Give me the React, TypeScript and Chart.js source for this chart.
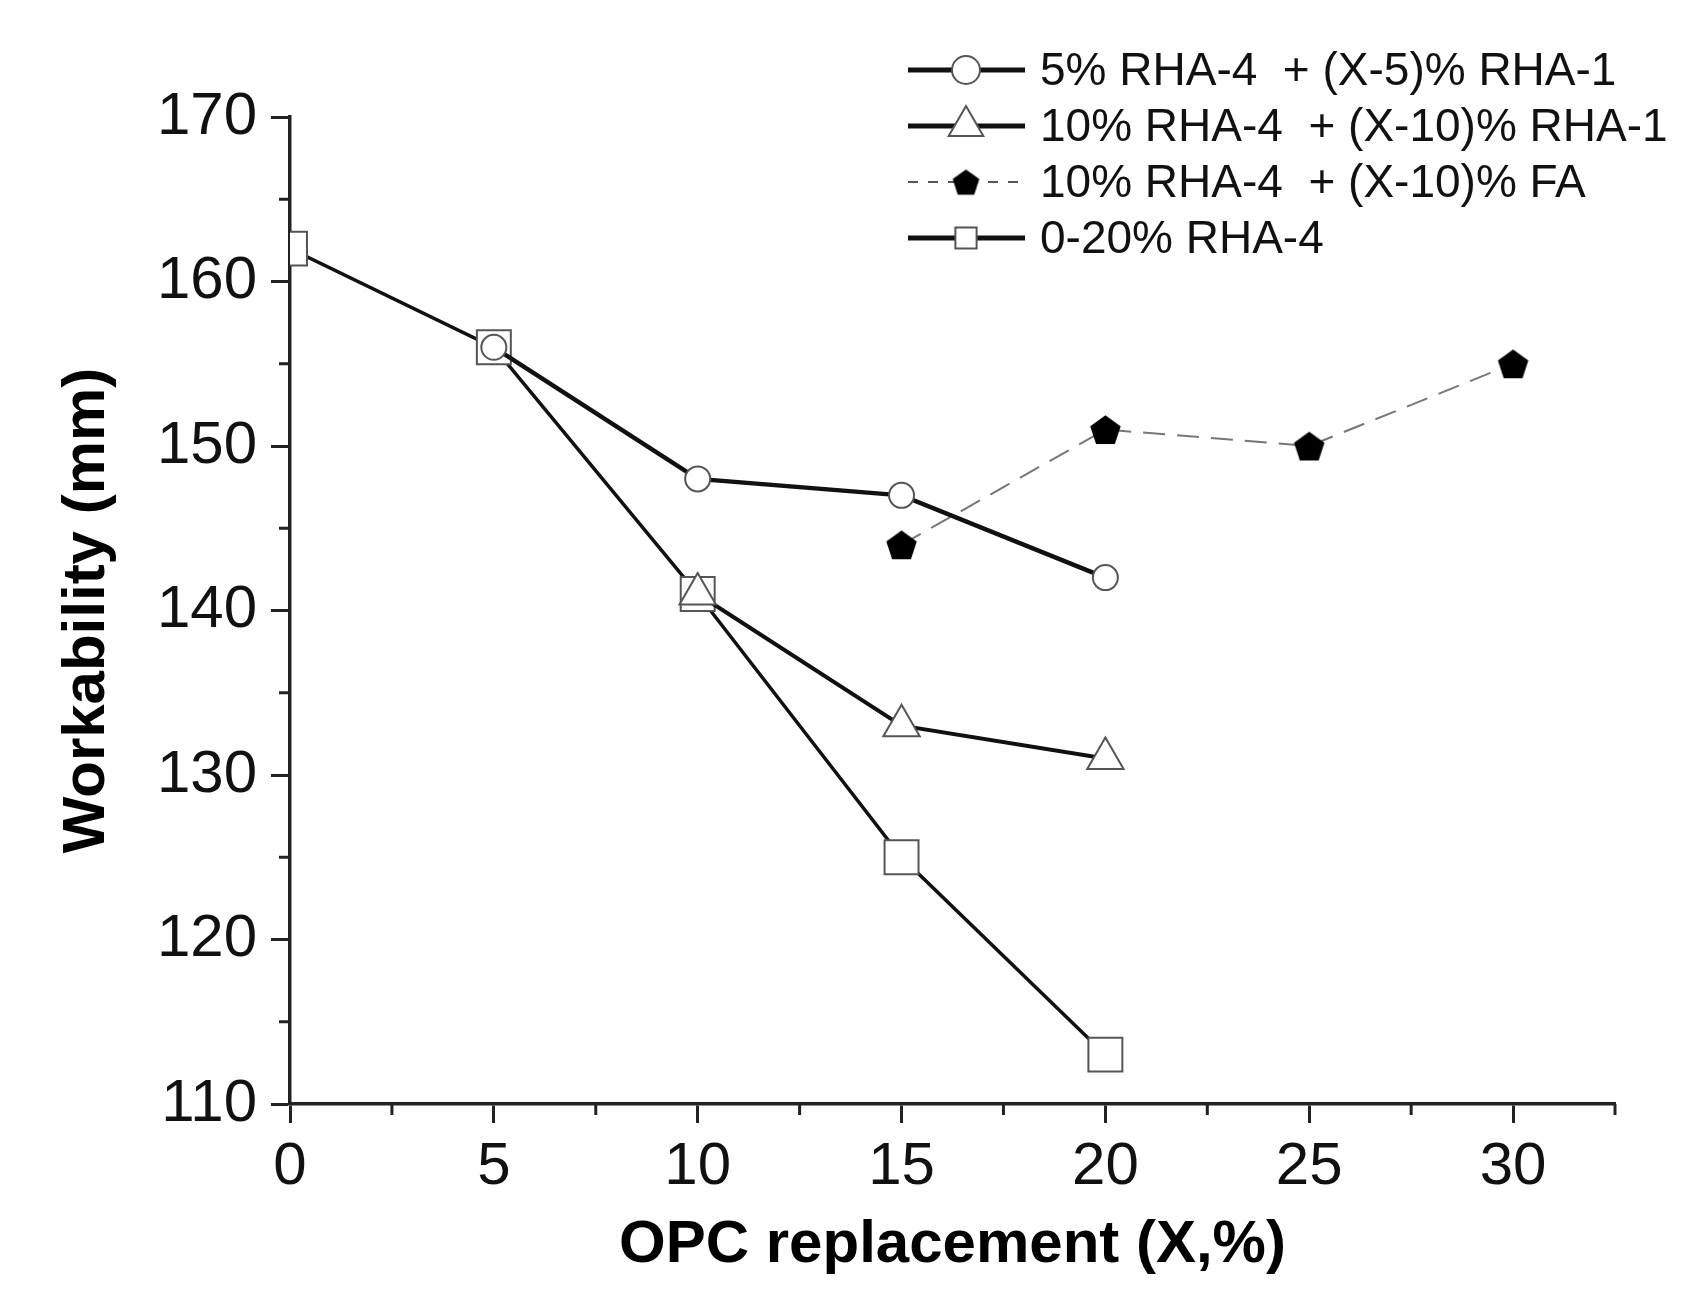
import React, { useEffect, useRef } from 'react';
import { Chart, registerables } from 'chart.js';
import { drawPoint } from 'chart.js/helpers';

Chart.register(...registerables);

const FONT = "'Liberation Sans', Arial, sans-serif";

// Tick values
const xTickValues = [0, 5, 10, 15, 20, 25, 30];
const xMinorTicks = [2.5, 7.5, 12.5, 17.5, 22.5, 27.5, 32.5];
const yTickValues = [110, 120, 130, 140, 150, 160, 170];
const yMinorTicks = [115, 125, 135, 145, 155, 165];

// Series labels
const seriesLabels = [
  '5% RHA-4  + (X-5)% RHA-1',
  '10% RHA-4  + (X-10)% RHA-1',
  '10% RHA-4  + (X-10)% FA',
  '0-20% RHA-4',
];

// Series data
const s1X = [5, 10, 15, 20];
const s1Y = [156, 148, 147, 142];
const s2X = [10, 15, 20];
const s2Y = [141, 133, 131];
const s3X = [15, 20, 25, 30];
const s3Y = [144, 151, 150, 155];
const s4X = [0, 5, 10, 15, 20];
const s4Y = [162, 156, 141, 125, 113];

const pts = (xs: number[], ys: number[]) => xs.map((x, i) => ({ x, y: ys[i] }));

function makePentagon(size: number) {
  const c = document.createElement('canvas');
  c.width = size;
  c.height = size;
  const g = c.getContext('2d')!;
  const r = size / 2 - 0.5;
  g.beginPath();
  for (let i = 0; i < 5; i++) {
    const a = -Math.PI / 2 + (i * 2 * Math.PI) / 5;
    const px = size / 2 + r * Math.cos(a);
    const py = size / 2 + size * 0.05 + r * Math.sin(a);
    if (i === 0) g.moveTo(px, py);
    else g.lineTo(px, py);
  }
  g.closePath();
  g.fillStyle = '#000';
  g.fill();
  return c;
}

export default function App() {
  const ref = useRef<HTMLCanvasElement>(null);

  useEffect(() => {
    if (!ref.current) return;
    const pent = makePentagon(33);
    const pentSmall = makePentagon(29);

    const minorTicks = {
      id: 'minorTicks',
      afterDraw(chart: any) {
        const ctx = chart.ctx;
        const xs = chart.scales.x;
        const ys = chart.scales.y;
        const area = chart.chartArea;
        ctx.save();
        ctx.strokeStyle = '#222';
        ctx.lineWidth = 3;
        xMinorTicks.forEach((v) => {
          const px = xs.getPixelForValue(v);
          ctx.beginPath();
          ctx.moveTo(px, area.bottom);
          ctx.lineTo(px, area.bottom + 11);
          ctx.stroke();
        });
        yMinorTicks.forEach((v) => {
          const py = ys.getPixelForValue(v);
          ctx.beginPath();
          ctx.moveTo(area.left, py);
          ctx.lineTo(area.left - 11, py);
          ctx.stroke();
        });
        ctx.restore();
      },
    };

    const legendPlugin = {
      id: 'customLegend',
      afterDraw(chart: any) {
        const ctx = chart.ctx;
        const rowTop = 70;
        const rowGap = 56;
        const lineL = 908;
        const lineR = 1025;
        const markX = 966;
        const textX = 1040;
        ctx.save();
        chart.data.datasets.forEach((ds: any, i: number) => {
          const y = rowTop + i * rowGap;
          ctx.beginPath();
          ctx.strokeStyle = i === 2 ? '#555' : '#111';
          ctx.lineWidth = i === 2 ? 2 : 5;
          ctx.setLineDash(i === 2 ? [10, 10] : []);
          ctx.moveTo(lineL, y);
          ctx.lineTo(lineR, y);
          ctx.stroke();
          ctx.setLineDash([]);
          ctx.fillStyle = '#fff';
          ctx.strokeStyle = ds.pointBorderColor;
          ctx.lineWidth = 2;
          const style = i === 2 ? pentSmall : ds.pointStyle;
          const radius = i === 3 ? 15 : i === 1 ? 20 : 14;
          drawPoint(ctx, { pointStyle: style, radius, borderWidth: 2, rotation: 0 }, markX, y);
          ctx.fillStyle = '#111';
          ctx.font = `46px ${FONT}`;
          ctx.textBaseline = 'middle';
          ctx.textAlign = 'left';
          ctx.fillText(ds.label, textX, y + 2);
        });
        ctx.restore();
      },
    };

    const chart = new Chart(ref.current, {
      type: 'line',
      data: {
        datasets: [
          {
            label: seriesLabels[0],
            data: pts(s1X, s1Y),
            borderColor: '#111',
            borderWidth: 4.5,
            pointStyle: 'circle',
            pointRadius: 12.5,
            pointBackgroundColor: '#fff',
            pointBorderColor: '#555',
            pointBorderWidth: 2,
          },
          {
            label: seriesLabels[1],
            data: pts(s2X, s2Y),
            borderColor: '#111',
            borderWidth: 4,
            pointStyle: 'triangle',
            pointRadius: 21,
            pointBackgroundColor: '#fff',
            pointBorderColor: '#555',
            pointBorderWidth: 2,
          },
          {
            label: seriesLabels[2],
            data: pts(s3X, s3Y),
            borderColor: '#777',
            borderWidth: 2,
            borderDash: [22, 12],
            pointStyle: pent as any,
            pointRadius: 16,
            pointBackgroundColor: '#000',
            pointBorderColor: '#000',
            pointBorderWidth: 0,
          },
          {
            label: seriesLabels[3],
            data: pts(s4X, s4Y),
            borderColor: '#111',
            borderWidth: 3.5,
            pointStyle: 'rect',
            pointRadius: 24,
            pointBackgroundColor: '#fff',
            pointBorderColor: '#555',
            pointBorderWidth: 2,
            clip: 0 as any,
          },
        ],
      },
      options: {
        animation: false,
        responsive: true,
        maintainAspectRatio: false,
        layout: { padding: { top: 117, right: 83, left: 0, bottom: 0 } },
        plugins: {
          legend: { display: false },
          tooltip: { enabled: false },
        },
        elements: { line: { tension: 0 } },
        scales: {
          x: {
            type: 'linear',
            min: 0,
            max: 32.5,
            afterBuildTicks: (s: any) => {
              s.ticks = xTickValues.map((v) => ({ value: v }));
            },
            afterFit: (s: any) => {
              s.height = 197;
            },
            ticks: {
              color: '#111',
              font: { family: FONT, size: 60 },
              padding: 8,
              maxRotation: 0,
              autoSkip: false,
            },
            grid: {
              drawOnChartArea: false,
              tickLength: 19,
              tickWidth: 3,
              tickColor: '#222',
            },
            border: { color: '#222', width: 3.5 },
            title: {
              display: true,
              text: 'OPC replacement (X,%)',
              color: '#000',
              font: { family: FONT, size: 60, weight: 'bold' },
              padding: { top: 0, bottom: 20 },
            },
          },
          y: {
            type: 'linear',
            min: 110,
            max: 170,
            afterBuildTicks: (s: any) => {
              s.ticks = yTickValues.map((v) => ({ value: v }));
            },
            afterFit: (s: any) => {
              s.width = 290;
            },
            ticks: {
              color: '#111',
              font: { family: FONT, size: 60 },
              padding: 14,
              autoSkip: false,
            },
            grid: {
              drawOnChartArea: false,
              tickLength: 19,
              tickWidth: 3,
              tickColor: '#222',
            },
            border: { color: '#222', width: 3.5 },
            title: {
              display: true,
              text: 'Workability (mm)',
              color: '#000',
              font: { family: FONT, size: 60, weight: 'bold' },
              padding: { top: 51, bottom: 0 },
            },
          },
        },
      },
      plugins: [minorTicks, legendPlugin],
    });

    return () => chart.destroy();
  }, []);

  return (
    <div
      style={{
        position: 'fixed',
        left: 0,
        top: 0,
        width: 1698,
        height: 1301,
        background: '#fff',
      }}
    >
      <canvas ref={ref} />
    </div>
  );
}
